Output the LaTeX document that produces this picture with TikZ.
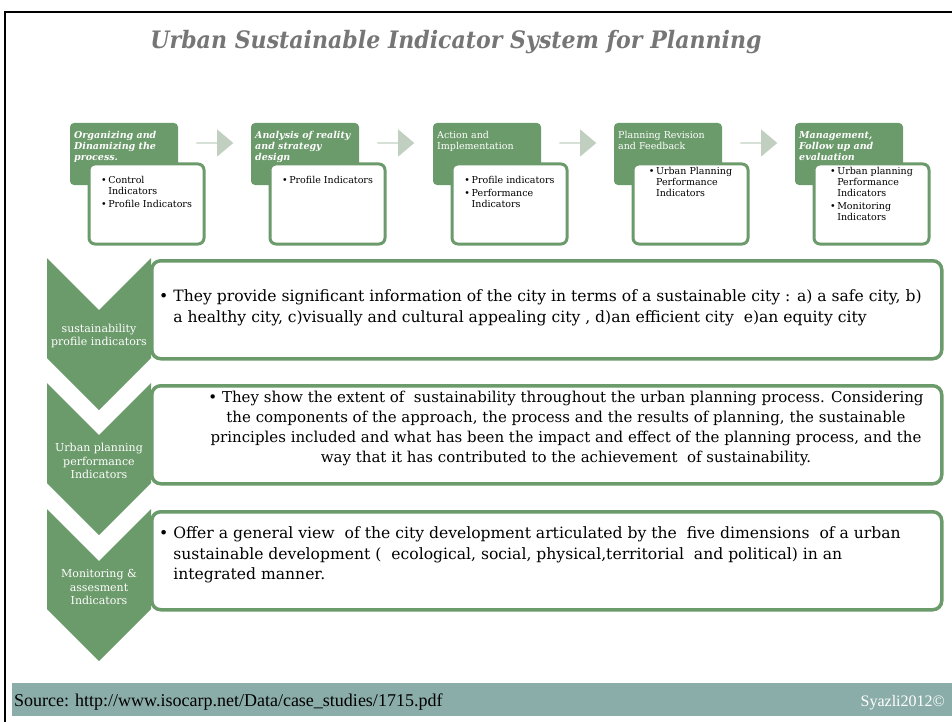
\documentclass[tikz,border=0pt]{standalone}
\usepackage{fontspec}
\setmainfont{DejaVu Serif}
\newfontfamily\titlefont{DejaVu Serif}[FakeStretch=0.92]
\newfontfamily\footfont{Liberation Serif}
\usetikzlibrary{shapes.arrows}

\definecolor{leafgreen}{RGB}{107,154,107}
\definecolor{palegreen}{RGB}{192,207,192}
\definecolor{footteal}{RGB}{139,173,170}
\definecolor{titlegray}{RGB}{118,118,118}

\tikzset{
  headbox/.style={fill=leafgreen, rounded corners=4pt},
  listbox/.style={draw=leafgreen, fill=white, line width=3pt, rounded corners=6pt},
  notebox/.style={draw=leafgreen, fill=white, line width=3.5pt, rounded corners=9pt,
    anchor=north west, inner sep=0pt, minimum width=790pt, minimum height=98pt},
  headtext/.style={text=white, anchor=north west, inner sep=0pt, align=left,
    font=\fontsize{9.5}{11}\selectfont\bfseries\itshape},
  plainhead/.style={headtext, font=\fontsize{9.5}{11}\selectfont},
  listtext/.style={anchor=north, inner sep=0pt, font=\fontsize{9.5}{11}\selectfont},
  stepflow/.style={single arrow, fill=palegreen, draw=none, inner sep=0pt,
    minimum height=37pt, minimum width=27pt, single arrow head extend=5pt,
    single arrow tip angle=80},
  chevtext/.style={text=white, align=center, inner sep=0pt,
    font=\fontsize{11}{13.5}\selectfont},
  notetext/.style={inner sep=0pt, font=\fontsize{15.6}{20.5}\selectfont}
}

\begin{document}
\begin{tikzpicture}[x=1pt, y=-1pt]
    \useasboundingbox (0,0) rectangle (952,722);

    % Drawing the slide frame
    \draw[line width=2.5pt] (5,722) -- (5,12) -- (952,12);

    % Drawing the title
    \node[text=titlegray, font=\titlefont\fontsize{24}{27}\selectfont\bfseries\itshape] (title) at (456,42)
        {Urban Sustainable Indicator System for Planning};

    % Drawing the five planning steps
    \path[headbox] (70,123) rectangle ++(108,62);
    \path[headbox] (251,123) rectangle ++(108,62);
    \path[headbox] (433,123) rectangle ++(108,62);
    \path[headbox] (614,123) rectangle ++(108,62);
    \path[headbox] (795,123) rectangle ++(108,62);

    \node[headtext] (head1) at (74,131) {Organizing and\\Dinamizing the\\process.};
    \node[headtext] (head2) at (255,131) {Analysis of reality\\and strategy\\design};
    \node[plainhead] (head3) at (437,131) {Action and\\Implementation};
    \node[plainhead] (head4) at (618,131) {Planning Revision\\and Feedback};
    \node[headtext] (head5) at (799,131) {Management,\\Follow up and\\evaluation};

    \path[listbox] (89,164) rectangle ++(115,80);
    \path[listbox] (270,164) rectangle ++(115,80);
    \path[listbox] (452,164) rectangle ++(115,80);
    \path[listbox] (633,164) rectangle ++(115,80);
    \path[listbox] (814,164) rectangle ++(115,80);

    \node[listtext] (list1) at (146.5,176) {\begin{tabular}{@{}l@{\,}l@{}}
        \textbullet & Control\\ & Indicators\\[1.5pt] \textbullet & Profile Indicators\end{tabular}};
    \node[listtext] (list2) at (327.5,176) {\begin{tabular}{@{}l@{\,}l@{}}
        \textbullet & Profile Indicators\end{tabular}};
    \node[listtext] (list3) at (509.5,176) {\begin{tabular}{@{}l@{\,}l@{}}
        \textbullet & Profile indicators\\[1.5pt] \textbullet & Performance\\ & Indicators\end{tabular}};
    \node[listtext] (list4) at (690.5,167) {\begin{tabular}{@{}l@{\,}l@{}}
        \textbullet & Urban Planning\\ & Performance\\ & Indicators\end{tabular}};
    \node[listtext] (list5) at (871.5,167) {\begin{tabular}{@{}l@{\,}l@{}}
        \textbullet & Urban planning\\ & Performance\\ & Indicators\\[1.5pt]
        \textbullet & Monitoring\\ & Indicators\end{tabular}};

    % Drawing the arrows between the steps
    \node[stepflow] (flow1) at (214.5,143) {};
    \node[stepflow] (flow2) at (395.5,143) {};
    \node[stepflow] (flow3) at (577.5,143) {};
    \node[stepflow] (flow4) at (758.5,143) {};

    % Drawing the indicator chevrons
    \fill[leafgreen] (47,258) -- (99,310) -- (151,258) -- (151,358) -- (99,410) -- (47,358) -- cycle;
    \fill[leafgreen] (47,383) -- (99,435) -- (151,383) -- (151,483) -- (99,535) -- (47,483) -- cycle;
    \fill[leafgreen] (47,509) -- (99,561) -- (151,509) -- (151,609) -- (99,661) -- (47,609) -- cycle;

    \node[chevtext] (chev1) at (99,336) {sustainability\\profile indicators};
    \node[chevtext] (chev2) at (99,461) {Urban planning\\performance\\Indicators};
    \node[chevtext] (chev3) at (99,587) {Monitoring \&\\assesment\\Indicators};

    % Drawing the description boxes
    \node[notebox] (note1) at (150,259) {};
    \node[notebox] (note2) at (150,384) {};
    \node[notebox] (note3) at (150,510) {};

    \node[notetext, anchor=west] (desc1) at (159,308) {\begin{tabular}{@{}l@{\ }l@{}}
        \textbullet & They provide significant information of the city in terms of a sustainable city : a) a safe city, b)\\
        & a healthy city, c)visually and cultural appealing city , d)an efficient city\ \ e)an equity city\end{tabular}};
    \node[notetext, align=center, font=\fontsize{15}{20}\selectfont] (desc2) at (566,428)
        {\textbullet\ They show the extent of\ \ sustainability throughout the urban planning process. Considering\\
        the components of the approach, the process and the results of planning, the sustainable\\
        principles included and what has been the impact and effect of the planning process, and the\\
        way that it has contributed to the achievement\ \ of sustainability.};
    \node[notetext, anchor=west] (desc3) at (159,555) {\begin{tabular}{@{}l@{\ }l@{}}
        \textbullet & Offer a general view\ \ of the city development articulated by the\ \ five dimensions\ \ of a urban\\
        & sustainable development (\ \ ecological, social, physical,territorial\ \ and political) in an\\
        & integrated manner.\end{tabular}};

    % Drawing the source line
    \fill[footteal] (12,683) rectangle (952,716);
    \node[anchor=base west, inner sep=0pt, font=\footfont\fontsize{18}{21}\selectfont] (source) at (14,706)
        {Source: http://www.isocarp.net/Data/case\_studies/1715.pdf};
    \node[anchor=base east, inner sep=0pt, text=white, font=\footfont\fontsize{16}{19}\selectfont] (credit) at (945,706)
        {Syazli2012©};

\end{tikzpicture}
\end{document}
